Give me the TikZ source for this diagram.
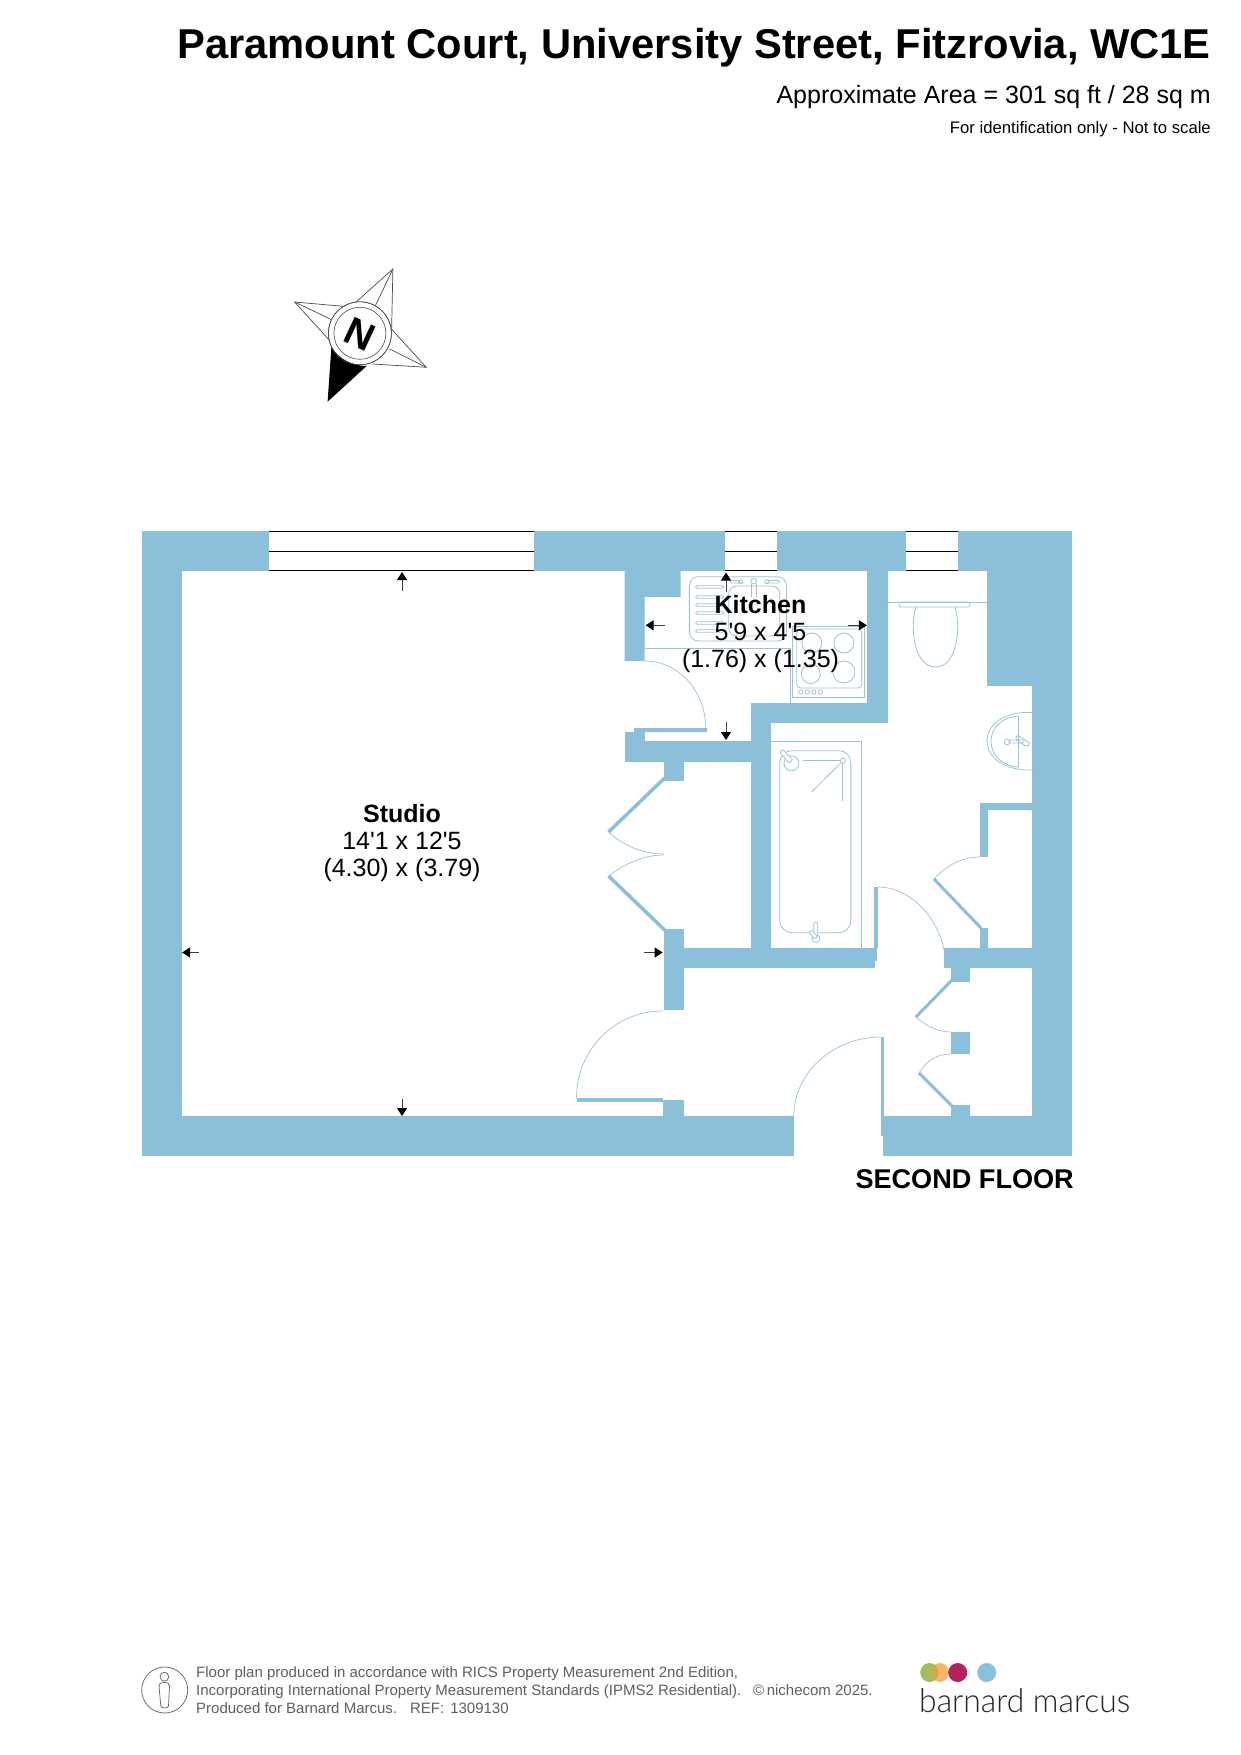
\documentclass[tikz,border=0pt]{standalone}
\usepackage{fontspec}
\setmainfont{Liberation Sans}[Ligatures=TeXOff]
\newfontfamily\logofont{Lato Light}
\usetikzlibrary{arrows.meta}
\definecolor{wallc}{HTML}{8BBFDA}
\definecolor{fixc}{HTML}{9CC3D3}
\definecolor{footc}{HTML}{5F5F5F}
\definecolor{logogreen}{HTML}{A4BE5C}
\definecolor{logoorange}{HTML}{EDA03C}
\definecolor{logomag}{HTML}{B5205F}
\tikzset{
  wall/.style={fill=wallc,draw=none},
  leaf/.style={draw=wallc,line width=3.5pt},
  fix/.style={draw=fixc,line width=0.8pt,fill=none},
  doorarc/.style={draw=fixc,line width=0.7pt},
  winline/.style={draw=black,line width=1.3pt},
  dimarrow/.style={draw=black!75,line width=0.9pt,-{Triangle[length=8pt,width=10pt,color=black]}},
  roomtext/.style={align=center,inner sep=0pt,font=\fontsize{25}{27}\selectfont},
  foot/.style={anchor=base west,inner sep=0pt,text=footc,font=\fontsize{15}{17}\selectfont},
  comp/.style={draw=black!70,line width=0.7pt}
}
\begin{document}
\begin{tikzpicture}[x=1pt,y=-1pt]
\useasboundingbox (0,0) rectangle (1241,1755);
\fill[white] (0,0) rectangle (1241,1755);
% title
\node[anchor=base east,inner sep=0pt,font=\bfseries\fontsize{41.7}{44}\selectfont] (title) at (1211,59) {Paramount Court, University Street, Fitzrovia, WC1E};
\node[anchor=base east,inner sep=0pt,font=\fontsize{25}{28}\selectfont] (area) at (1211,103.5) {Approximate Area = 301 sq ft / 28 sq m};
\node[anchor=base east,inner sep=0pt,font=\fontsize{16.7}{20}\selectfont] (ident) at (1211,134) {For identification only - Not to scale};
% compass
\begin{scope}[shift={(0.6,0)}]
\draw[comp] (354,303.3) -- (392.3,269) -- (391,329.3) -- (425.7,367.3) -- (372,364);
\draw[comp] (392.3,269) -- (374.3,306.7);
\draw[comp] (425.7,367.3) -- (389,349);
\draw[comp] (347,306.7) -- (294,302) -- (329.5,341);
\draw[comp] (294,302) -- (331.7,320);
\draw[comp,fill=white,line width=0.6pt] (359.3,333.3) circle (31.5);
\fill[black] (327,401.7) -- (330.8,347) .. controls (338,359) and (352,366) .. (366,366) -- cycle;
\draw[comp,line width=0.6pt] (359.3,333.3) circle (31.5);
\draw[comp,line width=0.6pt] (359.3,333.3) circle (26);
\node[rotate=-25,inner sep=0pt,font=\bfseries\fontsize{39}{40}\selectfont] (north) at (359.5,334) {N};
\end{scope}
\begin{scope}[shift={(142,0)},xscale=1.0012,shift={(-142,0)}]
% walls
\fill[wall] (142,531) rectangle (269,571);
\fill[wall] (534,531) rectangle (724,571);
\fill[wall] (776,531) rectangle (905,571);
\fill[wall] (957,531) rectangle (1071,571);
\fill[wall] (142,531) rectangle (182,1156);
\fill[wall] (142,1116) rectangle (793,1156);
\fill[wall] (882,1116) rectangle (1071,1156);
\fill[wall] (1031,531) rectangle (1071,1156);
\fill[wall] (986,531) rectangle (1071,686);
\fill[wall] (624,571) -- (680,571) -- (680,597) -- (644,597) -- (644,661) -- (624,661) -- cycle;
\fill[wall] (866,571) rectangle (887,723);
\fill[wall] (750,703) rectangle (887,723);
\fill[wall] (750,703) rectangle (770,968);
\fill[wall] (624,741) rectangle (770,762);
\fill[wall] (624,732) rectangle (644,762);
\fill[wall] (633,728) rectangle (706,732);
\fill[wall] (663,762) rectangle (683,781);
\fill[wall] (663,929) rectangle (683,1010);
\fill[wall] (663,948) rectangle (874,968);
\fill[wall] (874,948) rectangle (876.5,961);
\fill[wall] (873.5,887) rectangle (877,948);
\fill[wall] (943,948) rectangle (1031,968);
\fill[wall] (950,968) rectangle (969,982);
\fill[wall] (950,1032) rectangle (969,1054);
\fill[wall] (950,1105) rectangle (969,1116);
\fill[wall] (979,803) rectangle (1031,810);
\fill[wall] (979,803) rectangle (987,857);
\fill[wall] (979,928) rectangle (987,948);
\fill[wall] (662,1100) rectangle (683,1116);
\fill[wall] (576,1098) rectangle (662,1102);
\fill[wall] (880,1037) rectangle (883,1136);
% leaves
\draw[leaf] (664,778) -- (608,832);
\draw[leaf] (608,876) -- (664,930);
\draw[leaf,line width=3pt] (933,879) -- (980,928);
\draw[leaf,line width=3pt] (951,980) -- (915,1017);
\draw[leaf,line width=3pt] (918,1073) -- (951,1106);
% door arcs
\draw[doorarc] (644,661) .. controls (678,661) and (705,691) .. (705,728);
\draw[doorarc] (576,1098) .. controls (576,1050) and (614,1011) .. (662,1011);
\draw[doorarc] (793,1116) .. controls (793,1073) and (832,1037) .. (880,1037);
\draw[doorarc] (877,887) .. controls (913,887) and (945,925) .. (945,968);
\draw[doorarc] (979,857) .. controls (958,857) and (943,868) .. (933,879);
\draw[doorarc] (608,832) .. controls (622,845) and (642,854) .. (663,854);
\draw[doorarc] (608,876) .. controls (622,865) and (642,855) .. (663,855);
\draw[doorarc] (915,1017) .. controls (925,1026) and (937,1032) .. (950,1032);
\draw[doorarc] (950,1054) .. controls (937,1054) and (926,1060) .. (918,1073);
% windows
\foreach \xa/\xb in {269/534,724/776,905/957}{
  \draw[winline] (\xa,531.5) -- (\xb,531.5);
  \draw[winline] (\xa,551.5) -- (\xb,551.5);
  \draw[winline] (\xa,570.5) -- (\xb,570.5);
}
% kitchen fixtures
\draw[fix] (644,648) -- (790,648) -- (790,703);
\draw[fix,rounded corners=9pt] (688.7,576.7) rectangle (785.7,641);
\draw[fix,rounded corners=8pt] (728,586) rectangle (779,636);
\foreach \yy in {587,597,605,613,623,631}{
  \draw[fix,rounded corners=1.2pt] (695,\yy-1.2) rectangle (723,\yy+1.2);
}
\draw[fix,rounded corners=1.2pt] (729,580.5) rectangle (739,583);
\draw[fix] (740,581.7) circle (2);
\draw[fix,rounded corners=1.2pt] (767,580.5) rectangle (779,583);
\draw[fix] (766,581.7) circle (2);
\draw[fix] (753,581) circle (3);
\draw[fix] (750.7,584) -- (750.7,597) (755.3,584) -- (755.3,597);
\draw[fix] (792,626) rectangle (864,697);
\draw[fix,rounded corners=4pt] (796,629) rectangle (861,688);
\draw[fix] (811,643) circle (10);
\draw[fix] (843,643) circle (10);
\draw[fix] (810,674) circle (9.5);
\draw[fix] (843,672) circle (11);
\foreach \xx in {800,806.5,813,819.5}{\draw[fix] (\xx,692) circle (2.2);}
% WC
\draw[fix] (887,602) -- (986,602);
\draw[fix,rounded corners=2pt] (898,602) -- (969,602) -- (969,607) -- (898,607) -- cycle;
\draw[fix] (915,607) .. controls (909,625) and (912,667) .. (934.7,667) .. controls (957,667) and (960,625) .. (954,607);
% basin
\draw[fix] (1031,712.5) .. controls (1003,711) and (986,725) .. (986,741) .. controls (986,757) and (1003,771) .. (1031,770);
\draw[fix] (1017,716) -- (1017,767);
\draw[fix] (1017,716) .. controls (1001,717) and (990,728) .. (990,741) .. controls (990,755) and (1001,766) .. (1017,767);
\draw[fix] (1006,742) circle (2.8);
\draw[fix,rounded corners=1pt] (1008,740) rectangle (1023,743);
\draw[fix,rounded corners=2pt] (1016,735) -- (1029,743) -- (1026,747) -- (1014,739) -- cycle;
% bath
\draw[fix] (770,741) -- (861,741) -- (861,948);
\draw[fix,rounded corners=12pt] (779,750.7) rectangle (850,932.7);
\draw[fix,fill=white] (790.7,763.3) circle (7.5);
\draw[fix,fill=white,rounded corners=1pt] (779,752) -- (782,749.5) -- (792,760) -- (788,763) -- cycle;
\draw[fix] (842,760.7) circle (2.5);
\draw[fix] (801.7,760) -- (839.5,760);
\draw[fix] (842,763) -- (842,801);
\draw[fix] (840,763) -- (811,791.7);
\draw[fix,fill=white] (815,938.3) circle (4);
\draw[fix,fill=white,rounded corners=1pt] (813,922) rectangle (816.5,937);
\draw[fix,fill=white,rounded corners=1pt] (808,932) -- (811,930) -- (817,937) -- (814,939) -- cycle;
% arrows
\draw[dimarrow] (401.7,591) -- (401.7,572);
\draw[dimarrow] (401.7,1099) -- (401.7,1116);
\draw[dimarrow] (199,952.5) -- (182,952.5);
\draw[dimarrow] (643,952.5) -- (662,952.5);
\draw[dimarrow] (725.3,592) -- (725.3,572.5);
\draw[dimarrow] (725.3,722) -- (725.3,740);
\draw[dimarrow] (664,625.3) -- (645,625.3);
\draw[dimarrow] (847,625.3) -- (866,625.3);
\end{scope}
% labels
\node[roomtext] (studio) at (402,843.5) {\textbf{Studio}\\14'1 x 12'5\\(4.30) x (3.79)};
\node[roomtext] (kitchen) at (760.5,634.5) {\textbf{Kitchen}\\5'9 x 4'5\\(1.76) x (1.35)};
\node[anchor=base east,inner sep=0pt,font=\bfseries\fontsize{27.1}{29}\selectfont] (floor) at (1074,1188) {SECOND FLOOR};
% footer
\draw[draw=footc,line width=0.7pt] (164.7,1690) circle (23);
\draw[draw=footc,line width=0.7pt] (164.4,1676.7) ellipse (4.3 and 4.5);
\draw[draw=footc,line width=0.7pt] (159,1686) .. controls (159,1683) and (161,1682.5) .. (164,1682.5) .. controls (167.5,1682.5) and (169.5,1683) .. (169.5,1686) -- (168.5,1706) .. controls (168.3,1708.5) and (161,1708.5) .. (160.8,1706) -- cycle;
\node[foot] (f1) at (196,1677) {Floor plan produced in accordance with RICS Property Measurement 2nd Edition,};
\node[foot] (f2) at (196,1695) {Incorporating International Property Measurement Standards (IPMS2 Residential).};
\node[foot] (f3) at (196,1713) {Produced for Barnard Marcus.\hspace{13pt}REF:\hspace{6pt}1309130};
\node[foot] (f4) at (753,1695) {©\,nichecom 2025.};
% logo
\fill[fill=logogreen] (929.5,1672.5) ellipse (9.3 and 9.5);
\fill[fill=logoorange,opacity=0.75] (940,1672.5) ellipse (9 and 9.5);
\fill[fill=logomag] (957.7,1672.5) ellipse (9.5 and 9.5);
\fill[fill=wallc] (986.7,1672.5) ellipse (9.5 and 9.5);
\node[anchor=base west,inner sep=0pt,xscale=0.965,text=black!85,font=\logofont\fontsize{33}{36}\selectfont] (logo) at (919,1712) {barnard marcus};
\end{tikzpicture}
\end{document}
